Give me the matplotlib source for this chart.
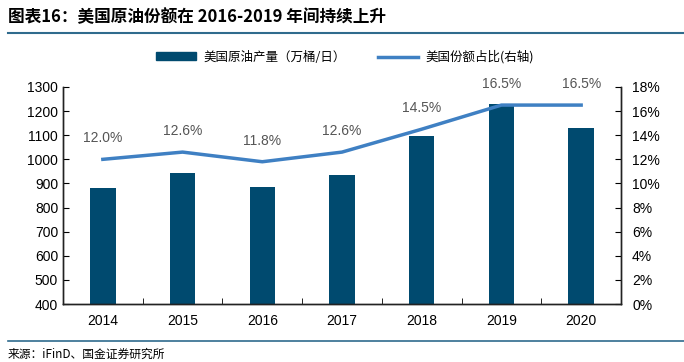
import matplotlib
matplotlib.use("Agg")
import matplotlib.pyplot as plt
from matplotlib.ticker import FuncFormatter, MultipleLocator, FixedLocator
from matplotlib.lines import Line2D
from matplotlib.patches import Patch

plt.rcParams['font.family'] = ['Noto Sans CJK SC', 'DejaVu Sans']

years = ["2014", "2015", "2016", "2017", "2018", "2019", "2020"]
output = [880, 943, 885, 935, 1095, 1230, 1130]   # 万桶/日
share = [12.0, 12.6, 11.8, 12.6, 14.5, 16.5, 16.5]  # %

bar_color = "#004a6f"
line_color = "#3f80c3"
rule_color = "#2f6b8d"
num_font = ["Liberation Sans", "DejaVu Sans"]

fig = plt.figure(figsize=(6.84, 3.62), dpi=100)
ax = fig.add_axes([63/684, 1-304/362, (621-63)/684, (304-87)/362])
ax2 = ax.twinx()

x = list(range(len(years)))
ax.bar(x, output, width=0.32, color=bar_color, zorder=2)
ax.set_ylim(400, 1300)
ax.set_xlim(-0.5, len(years)-0.5)
ax.yaxis.set_major_locator(MultipleLocator(100))
ax.set_xticks(x)
ax.set_xticklabels(years)
ax.xaxis.set_minor_locator(FixedLocator([i+0.5 for i in range(len(years)-1)]))
ax.tick_params(axis="x", which="major", length=0, labelsize=10, pad=7)
ax.tick_params(axis="x", which="minor", length=4, direction="in")
ax.tick_params(axis="y", direction="in", length=4, labelsize=10)

ax2.plot(x, share, color=line_color, lw=2.5, zorder=3)
ax2.set_ylim(0, 18)
ax2.yaxis.set_major_locator(MultipleLocator(2))
ax2.yaxis.set_major_formatter(FuncFormatter(lambda v, p: f"{v:.0f}%"))
ax2.tick_params(axis="y", direction="in", length=4, labelsize=10, pad=8)
for xi, s in zip(x, share):
    ax2.annotate(f"{s:.1f}%", (xi, s), xytext=(0, 10), textcoords="offset points",
                 ha="center", va="bottom", fontsize=10, color="#555555", family=num_font)

for lab in ax.get_xticklabels() + ax.get_yticklabels() + ax2.get_yticklabels():
    lab.set_family(num_font)

for a in (ax, ax2):
    a.spines["top"].set_visible(False)
    for s in ("left", "right", "bottom"):
        a.spines[s].set_linewidth(1.0)
        a.spines[s].set_color("#222222")

handles = [Patch(color=bar_color), Line2D([], [], color=line_color, lw=2.5)]
fig.legend(handles, ["美国原油产量（万桶/日）", "美国份额占比(右轴)"],
           loc="center", bbox_to_anchor=(345/684, 1-57/362), ncol=2, frameon=False,
           fontsize=9, handlelength=3.2, columnspacing=2.5, handleheight=0.6,
           handletextpad=0.6)

fig.text(8/684, 1-17/362, "图表16：美国原油份额在 2016-2019 年间持续上升",
         fontsize=12, fontweight="bold", fontstyle="italic", va="center", ha="left")
fig.add_artist(Line2D([8/684, 1], [1-33/362]*2, color=rule_color, lw=1.5))
fig.add_artist(Line2D([8/684, 1], [1-341/362]*2, color=rule_color, lw=1.2))
fig.text(8/684, 1-354/362, "来源：iFinD、国金证券研究所", fontsize=8.5, va="center", ha="left")

fig.savefig("out.png", dpi=100)
